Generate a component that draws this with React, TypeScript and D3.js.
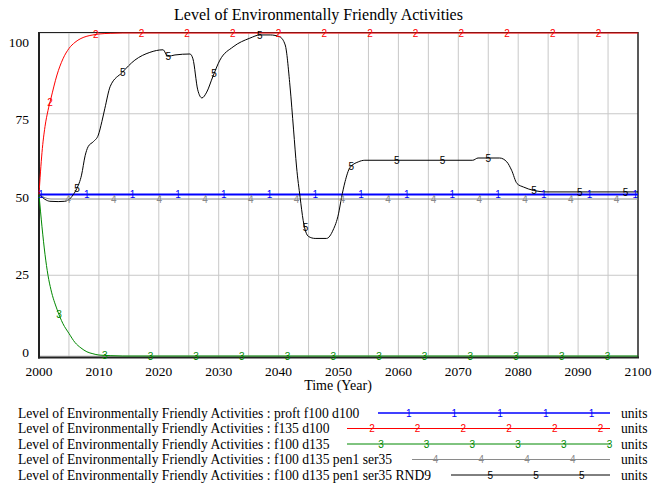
import React, { useEffect } from "react";
import * as d3 from "d3";

const TITLE = "Level of Environmentally Friendly Activities";
const X_LABEL = "Time (Year)";
const X_TICKS = [2000, 2010, 2020, 2030, 2040, 2050, 2060, 2070, 2080, 2090, 2100];
const X_GRID = d3.range(2005, 2100, 5);
const Y_TICKS = [0, 25, 50, 75, 100];
const UNITS = "units";

const SERIES_NAMES = [
  "Level of Environmentally Friendly Activities : proft f100 d100",
  "Level of Environmentally Friendly Activities : f135 d100",
  "Level of Environmentally Friendly Activities : f100 d135",
  "Level of Environmentally Friendly Activities : f100 d135 pen1 ser35",
  "Level of Environmentally Friendly Activities : f100 d135 pen1 ser35 RND9",
];
const SERIES_MARKS = ["1", "2", "3", "4", "5"];
const SERIES_COLORS = ["#0000ff", "#ff0000", "#008800", "#8a8a8a", "#000000"];
const SERIES_WIDTHS = [2, 1, 1, 1, 1];

const blueYears = [2000, 2100];
const blueValues = [50, 50];

const redYears = [2000, 2000.25, 2000.5, 2001, 2001.5, 2002, 2003, 2004, 2005, 2006, 2007, 2008, 2009, 2010, 2012, 2014, 2100];
const redValues = [50, 57, 63, 71, 76, 79.8, 87, 92, 95.2, 97.1, 98.3, 99, 99.4, 99.7, 99.9, 100, 100];

const greenYears = [2000, 2000.5, 2001, 2001.5, 2002, 2003, 2004, 2005, 2006, 2007, 2008, 2009, 2010, 2012, 2014, 2100];
const greenValues = [50, 40, 31.5, 25, 20.5, 14.5, 10, 7, 4.2, 2.5, 1.3, 0.7, 0.3, 0.1, 0, 0];

const grayYears = [2000, 2001, 2002, 2100];
const grayValues = [50, 49, 48.6, 48.6];

const blackYears = [
  2000, 2001, 2001.8, 2003.2, 2004.3, 2004.9, 2005.7, 2006.3, 2007.1, 2007.7, 2008.2, 2009.1, 2009.9,
  2010.5, 2011, 2011.9, 2013.9, 2016, 2018.5, 2020.7, 2021.5, 2022.7, 2025.2, 2025.7, 2026.5, 2027.2,
  2028, 2029, 2030.2, 2032.4, 2035.2, 2036.9, 2038.6, 2040.2, 2041.1, 2041.9, 2042.5, 2043, 2043.6,
  2044.1, 2045, 2046.1, 2048, 2049.1, 2050, 2050.5, 2051.1, 2051.9, 2053.3, 2054.4, 2072.4, 2073.3,
  2076.9, 2078.1, 2078.9, 2079.8, 2080.9, 2082.5, 2084.8, 2100,
];
const blackValues = [
  50, 48.5, 47.9, 47.8, 47.9, 48.3, 49.9, 51.8, 56, 62, 64.8, 66.4, 68.4,
  72.6, 76.7, 83.5, 87.8, 91.6, 94, 94.8, 92.8, 93.2, 93.5, 92, 82.4, 79.9,
  81.7, 86.4, 91.6, 95.7, 98.4, 99.4, 99.4, 98.8, 96.3, 83.6, 70, 58.5, 49,
  42, 37, 36.4, 36.4, 39, 44, 49, 54, 58.3, 60.1, 60.6, 60.6, 61.3,
  61.3, 60.1, 57.5, 53.4, 52.3, 51.3, 50.8, 50.8,
];

const SERIES_YEARS = [blueYears, redYears, greenYears, grayYears, blackYears];
const SERIES_VALUES = [blueValues, redValues, greenValues, grayValues, blackValues];

const MARK_OFFSETS = [0.34, 1.84, 3.34, 4.84, 6.34];
const MARK_STEP = 7.63;
const LEGEND_LINE_START = [378, 347, 347, 412, 451];

const W = 653;
const H = 486;
const SERIF = "'Liberation Serif', 'Times New Roman', serif";
const SANS = "'Liberation Sans', Arial, sans-serif";

function interp(years: number[], values: number[], t: number) {
  if (t <= years[0]) return values[0];
  for (let i = 1; i < years.length; i++) {
    if (t <= years[i]) {
      const f = (t - years[i - 1]) / (years[i] - years[i - 1]);
      return values[i - 1] + f * (values[i] - values[i - 1]);
    }
  }
  return values[values.length - 1];
}

export default function App() {
  useEffect(() => {
    document.body.style.margin = "0";
  }, []);

  const x = d3.scaleLinear().domain([2000, 2100]).range([39, 638]);
  const y = d3.scaleLinear().domain([0, 100]).range([356, 33]);
  const yLabel = d3.scaleLinear().domain([0, 100]).range([352, 42]);

  const line = d3
    .line<[number, number]>()
    .x((d) => x(d[0]))
    .y((d) => y(d[1]))
    .curve(d3.curveMonotoneX);

  const markYears = (i: number) => {
    const out: number[] = [];
    for (let t = 2000 + MARK_OFFSETS[i]; t <= 2100.01; t += MARK_STEP) out.push(t);
    return out;
  };

  const legendY = (i: number) => 413 + i * 15.5;

  return (
    <svg width={W} height={H} style={{ position: "absolute", left: 0, top: 0, background: "#fff" }}>
      <rect x={0} y={0} width={W} height={H} fill="#fff" />
      <text x={318.5} y={20} textAnchor="middle" fontFamily={SERIF} fontSize={16} fill="#000">
        {TITLE}
      </text>

      {/* grid */}
      {X_GRID.map((g) => (
        <line key={"gx" + g} x1={x(g)} x2={x(g)} y1={33} y2={357} stroke="#c8c8c8" strokeWidth={1} />
      ))}
      {Y_TICKS.map((v) => (
        <line key={"gy" + v} x1={39} x2={638} y1={y(v)} y2={y(v)} stroke="#c8c8c8" strokeWidth={1} />
      ))}

      {/* frame */}
      <line x1={39} x2={638} y1={32.5} y2={32.5} stroke="#222" strokeWidth={1} />
      <line x1={638} x2={638} y1={32} y2={358} stroke="#222" strokeWidth={1.5} />
      <line x1={39} x2={39} y1={32} y2={358.5} stroke="#222" strokeWidth={2} />
      <line x1={38} x2={639} y1={357.5} y2={357.5} stroke="#222" strokeWidth={2} />

      {/* series lines */}
      {SERIES_VALUES.map((vals, i) => {
        const pts = SERIES_YEARS[i].map((yr, k) => [yr, vals[k]] as [number, number]);
        return (
          <path key={"s" + i} d={line(pts) || ""} fill="none" stroke={SERIES_COLORS[i]} strokeWidth={SERIES_WIDTHS[i]} />
        );
      })}

      {/* series markers */}
      {SERIES_VALUES.map((vals, i) =>
        markYears(i).map((t, k) => (
          <text
            key={"m" + i + "-" + k}
            x={x(t)}
            y={y(interp(SERIES_YEARS[i], vals, t))}
            dy="0.36em"
            textAnchor="middle"
            fontFamily={SANS}
            fontSize={10}
            fill={SERIES_COLORS[i]}
          >
            {SERIES_MARKS[i]}
          </text>
        ))
      )}

      {/* y tick labels */}
      {Y_TICKS.map((v) => (
        <text key={"yl" + v} x={29} y={yLabel(v)} dy="0.35em" textAnchor="end" fontFamily={SERIF} fontSize={13.5} fill="#000">
          {v}
        </text>
      ))}
      {/* x tick labels */}
      {X_TICKS.map((v) => (
        <text key={"xl" + v} x={x(v)} y={371} dy="0.35em" textAnchor="middle" fontFamily={SERIF} fontSize={13.5} fill="#000">
          {v}
        </text>
      ))}
      <text x={338} y={385} dy="0.35em" textAnchor="middle" fontFamily={SERIF} fontSize={14} fill="#000">
        {X_LABEL}
      </text>

      {/* legend */}
      {SERIES_NAMES.map((name, i) => {
        const ly = legendY(i);
        const x0 = LEGEND_LINE_START[i];
        const x1 = 610;
        const marks = markYears(i)
          .map((t) => x(t) + 2)
          .filter((mx) => mx >= x0 + 5 && mx <= x1 + 1);
        return (
          <g key={"lg" + i}>
            <text x={18} y={ly} dy="0.35em" fontFamily={SERIF} fontSize={13.6} fill="#000">
              {name}
            </text>
            <line x1={x0} x2={x1} y1={ly} y2={ly} stroke={SERIES_COLORS[i]} strokeWidth={i === 0 ? 1.5 : 1} />
            {marks.map((mx, k) => (
              <text
                key={k}
                x={mx}
                y={ly}
                dy="0.36em"
                textAnchor="middle"
                fontFamily={SANS}
                fontSize={10}
                fill={SERIES_COLORS[i]}
              >
                {SERIES_MARKS[i]}
              </text>
            ))}
            <text x={621} y={ly} dy="0.35em" fontFamily={SERIF} fontSize={13.6} fill="#000">
              {UNITS}
            </text>
          </g>
        );
      })}
    </svg>
  );
}
